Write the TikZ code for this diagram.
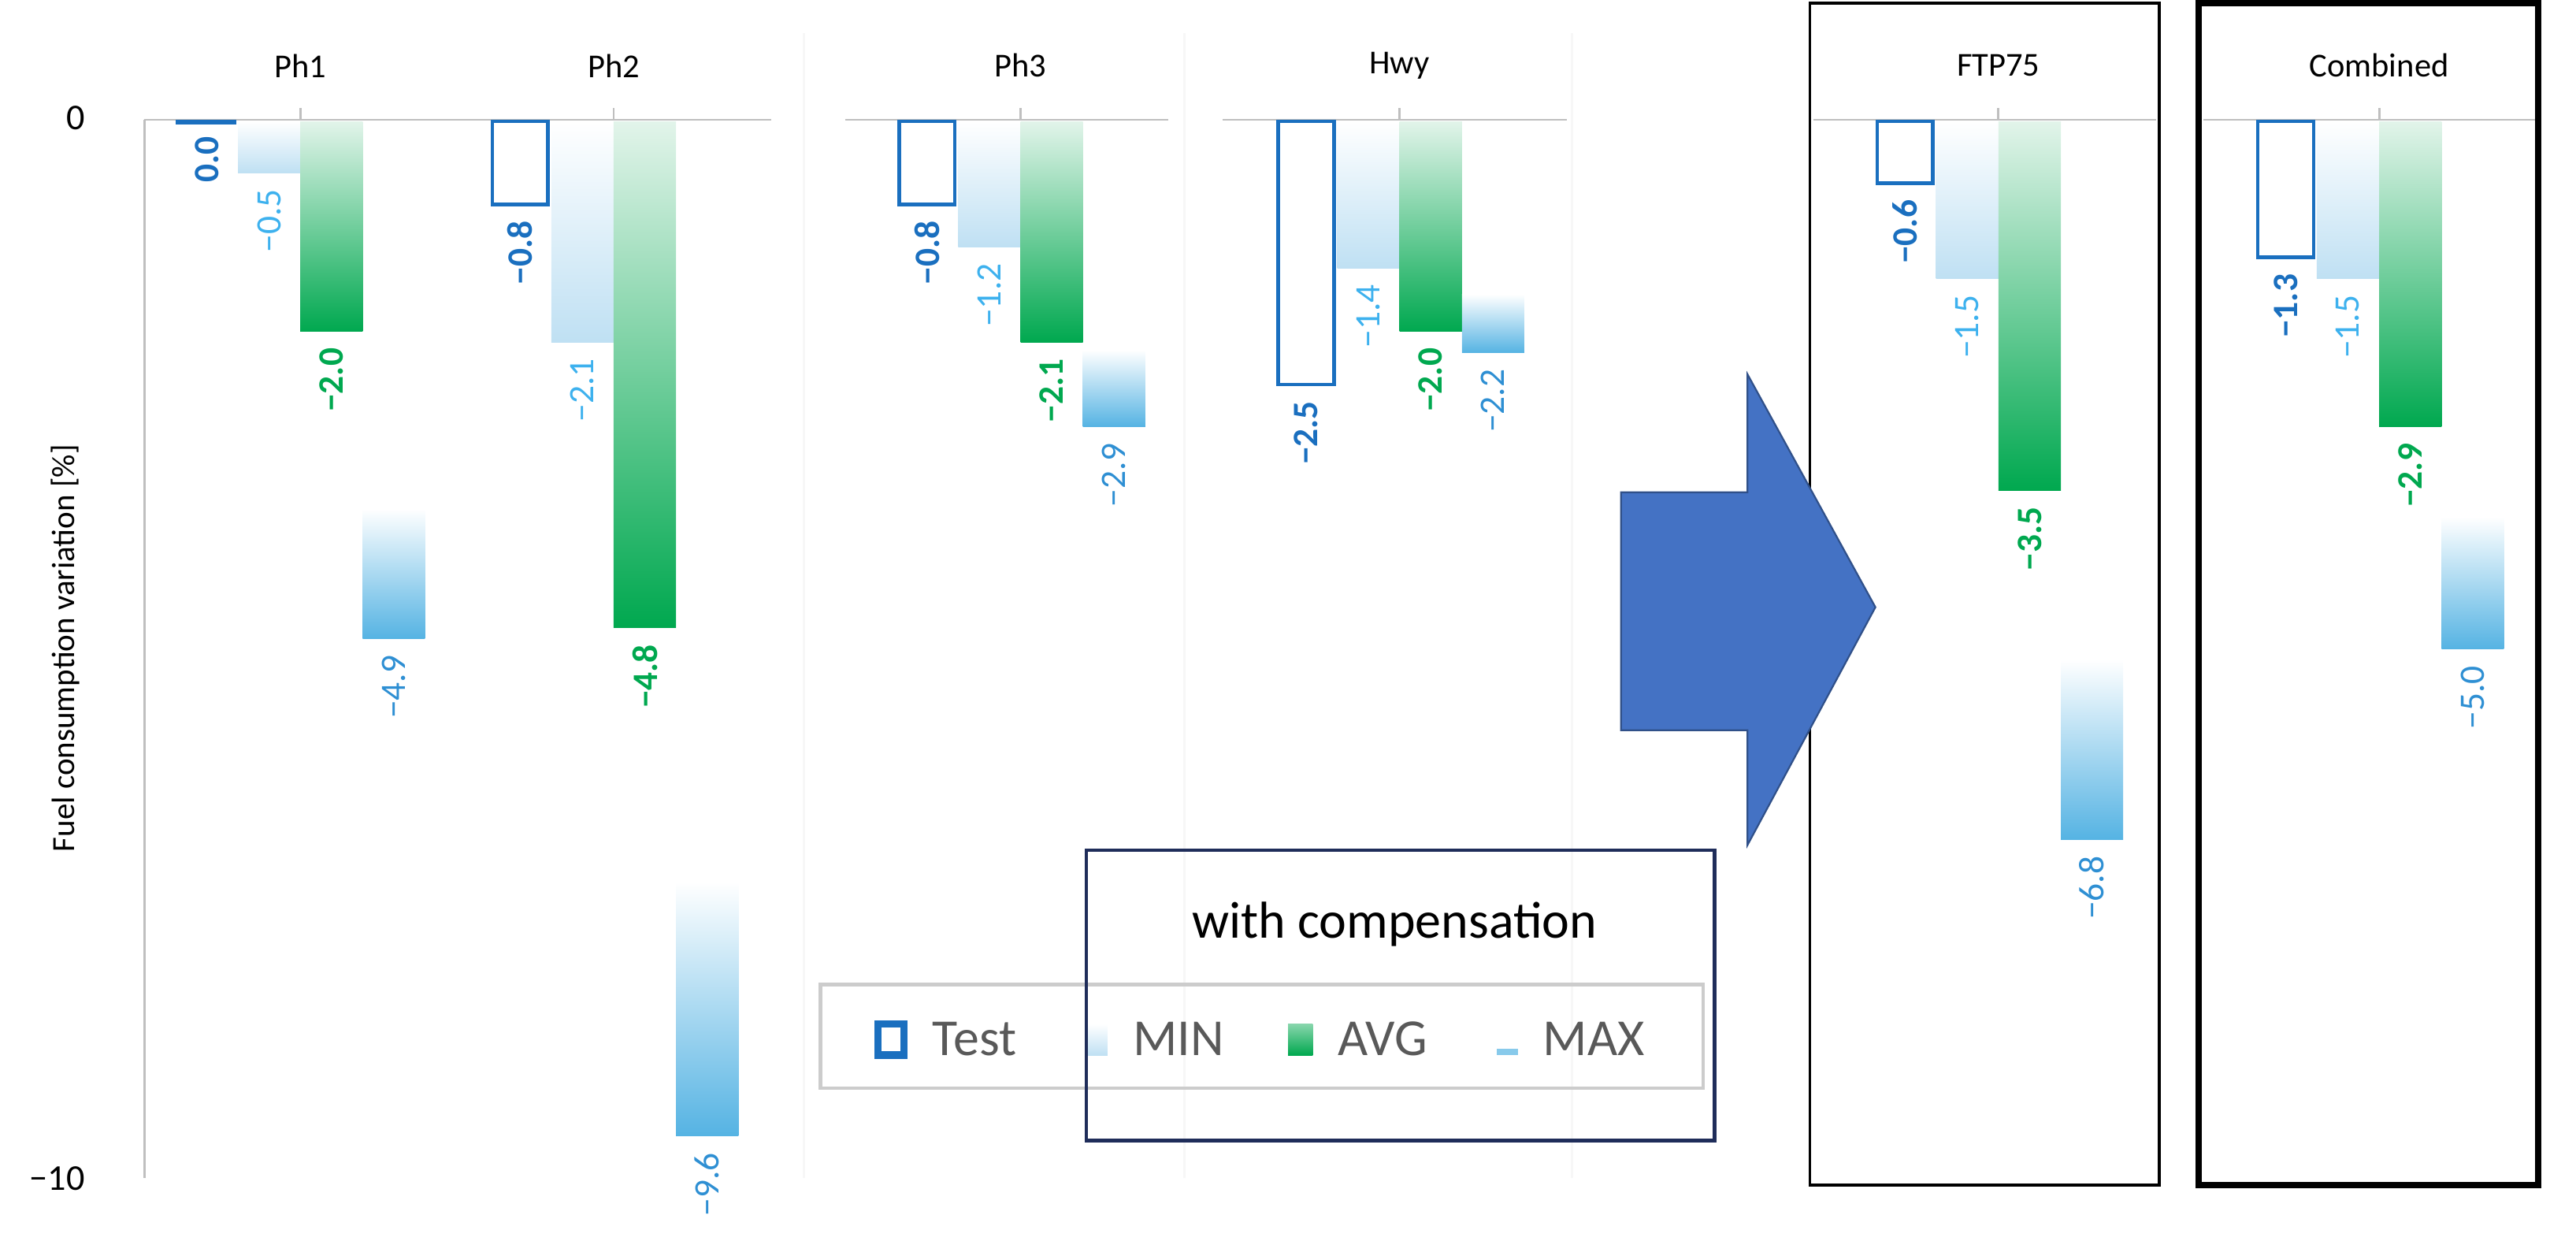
\documentclass[tikz,border=0pt]{standalone}
\usepackage{fontspec}
\setmainfont{Carlito}
\definecolor{testc}{HTML}{1A6FBF}
\definecolor{minc}{HTML}{3DB1EE}
\definecolor{minfill}{HTML}{BFE0F3}
\definecolor{avgc}{HTML}{00A84F}
\definecolor{avgtop}{HTML}{E2F4EA}
\definecolor{maxc}{HTML}{2E8FD3}
\definecolor{maxfill}{HTML}{55B3E3}
\definecolor{arrowc}{HTML}{4472C4}
\definecolor{navy}{HTML}{1F2D5A}
\tikzset{
 lab/.style={rotate=90,anchor=east,inner sep=1pt,font=\fontsize{6.2}{7}\selectfont},
 cat/.style={font=\fontsize{5.8}{7}\selectfont},
 testbar/.style={draw=testc,line width=0.6pt,fill=white},
 minbar/.style={top color=white,bottom color=minfill,draw=none},
 avgbar/.style={top color=avgtop,bottom color=avgc,draw=none},
 maxbar/.style={top color=white,bottom color=maxfill,draw=none},
 grid/.style={draw=black!25,line width=0.4pt},
 leg/.style={font=\fontsize{9}{11}\selectfont,text=black!65,anchor=west}
}
% #1 name, #2 tick x, #3 test, #4 min, #5 avg, #6 max, #7 test label
\newcommand\grpbars[7]{%
 \pgfmathsetmacro\yt{73+64.5*#3}\pgfmathsetmacro\ym{73+64.5*#4}%
 \pgfmathsetmacro\ya{73+64.5*#5}\pgfmathsetmacro\yx{73+64.5*#6}\pgfmathsetmacro\yxs{73+0.75*64.5*#6}%
 \draw[grid] (#2,66) -- (#2,73);
 \ifdim #3pt<0.05pt
  \fill[testc] (#2-76,73) rectangle (#2-39,76);
 \else
  \draw[testbar] (#2-74,74) rectangle (#2-40,\yt);
 \fi
 \path[minbar] (#2-38,74) rectangle (#2,\ym);
 \path[avgbar] (#2,74) rectangle (#2+38,\ya);
 \path[maxbar] (#2+38,\yxs) rectangle (#2+76,\yx);
 \node[lab,text=testc,font=\fontsize{6.2}{7}\selectfont\bfseries] (#1t) at (#2-57,\yt+6) {#7};
 \node[lab,text=minc] (#1m) at (#2-19,\ym+6) {−#4};
 \node[lab,text=avgc,font=\fontsize{6.2}{7}\selectfont\bfseries] (#1a) at (#2+19,\ya+6) {−#5};
 \node[lab,text=maxc] (#1x) at (#2+57,\yx+6) {−#6};
}
\begin{document}
\begin{tikzpicture}[x=0.01cm,y=-0.01cm]
\useasboundingbox (0,0) rectangle (1570,765);
% faint panel separators
\draw[black!3] (490,20) -- (490,718) (722,20) -- (722,718) (958,20)--(958,718);
% zero lines
\draw[grid] (88,73) -- (470,73) (515,73) -- (712,73) (745,73) -- (955,73) (1105,73) -- (1314,73) (1343,73) -- (1545,73);
% y axis
\draw[grid] (88,73) -- (88,718);
\node[font=\fontsize{6.3}{7}\selectfont,anchor=east] (y0) at (64,72) {0};
\node[font=\fontsize{6.3}{7}\selectfont,anchor=east] (y10) at (64,718) {−10};
\node[rotate=90,font=\fontsize{5.6}{6.5}\selectfont] (yt) at (40,395) {Fuel consumption variation [\%]};
% categories
\node[cat] (c1) at (183,40) {Ph1};
\node[cat] (c2) at (374,40) {Ph2};
\node[cat] (c3) at (622,40) {Ph3};
\node[cat] (c4) at (853,40) {Hwy};
\node[cat] (c5) at (1218,40) {FTP75};
\node[cat] (c6) at (1450,40) {Combined};
\grpbars{p1}{183}{0.0}{0.5}{2.0}{4.9}{0.0}
\grpbars{p2}{374}{0.8}{2.1}{4.8}{9.6}{−0.8}
\grpbars{p3}{622}{0.8}{1.2}{2.1}{2.9}{−0.8}
\grpbars{p4}{853}{2.5}{1.4}{2.0}{2.2}{−2.5}
\grpbars{p5}{1218}{0.6}{1.5}{3.5}{6.8}{−0.6}
\grpbars{p6}{1450}{1.3}{1.5}{2.9}{5.0}{−1.3}
% boxes
\draw[black,line width=0.5pt] (1103,2) rectangle (1316,722);
\draw[black,line width=1.1pt] (1340,2) rectangle (1547,722);
% arrow
\draw[fill=arrowc,draw=arrowc!70!black,line width=0.3pt]
 (988,300) -- (1065,300) -- (1065,228) -- (1143,370) -- (1065,515) -- (1065,445) -- (988,445) -- cycle;
% legend
\draw[black!20,line width=0.6pt] (500,600) rectangle (1038,663);
\draw[testc,line width=1.3pt] (535,624) rectangle (551,643);
\node[leg] (lt) at (556,633) {Test};
\fill[top color=white,bottom color=minfill] (663,624) rectangle (675,643);
\node[leg] (lm) at (678,633) {MIN};
\fill[top color=avgtop!60!avgc,bottom color=avgc] (785,624) rectangle (800,643);
\node[leg] (la) at (803,633) {AVG};
\fill[maxfill!70] (912,639) rectangle (925,643);
\node[leg] (lx) at (928,633) {MAX};
% with compensation
\draw[navy,line width=0.6pt] (662,518) rectangle (1045,695);
\node[font=\fontsize{9}{11}\selectfont] (wc) at (850,563) {with compensation};
\end{tikzpicture}
\end{document}
